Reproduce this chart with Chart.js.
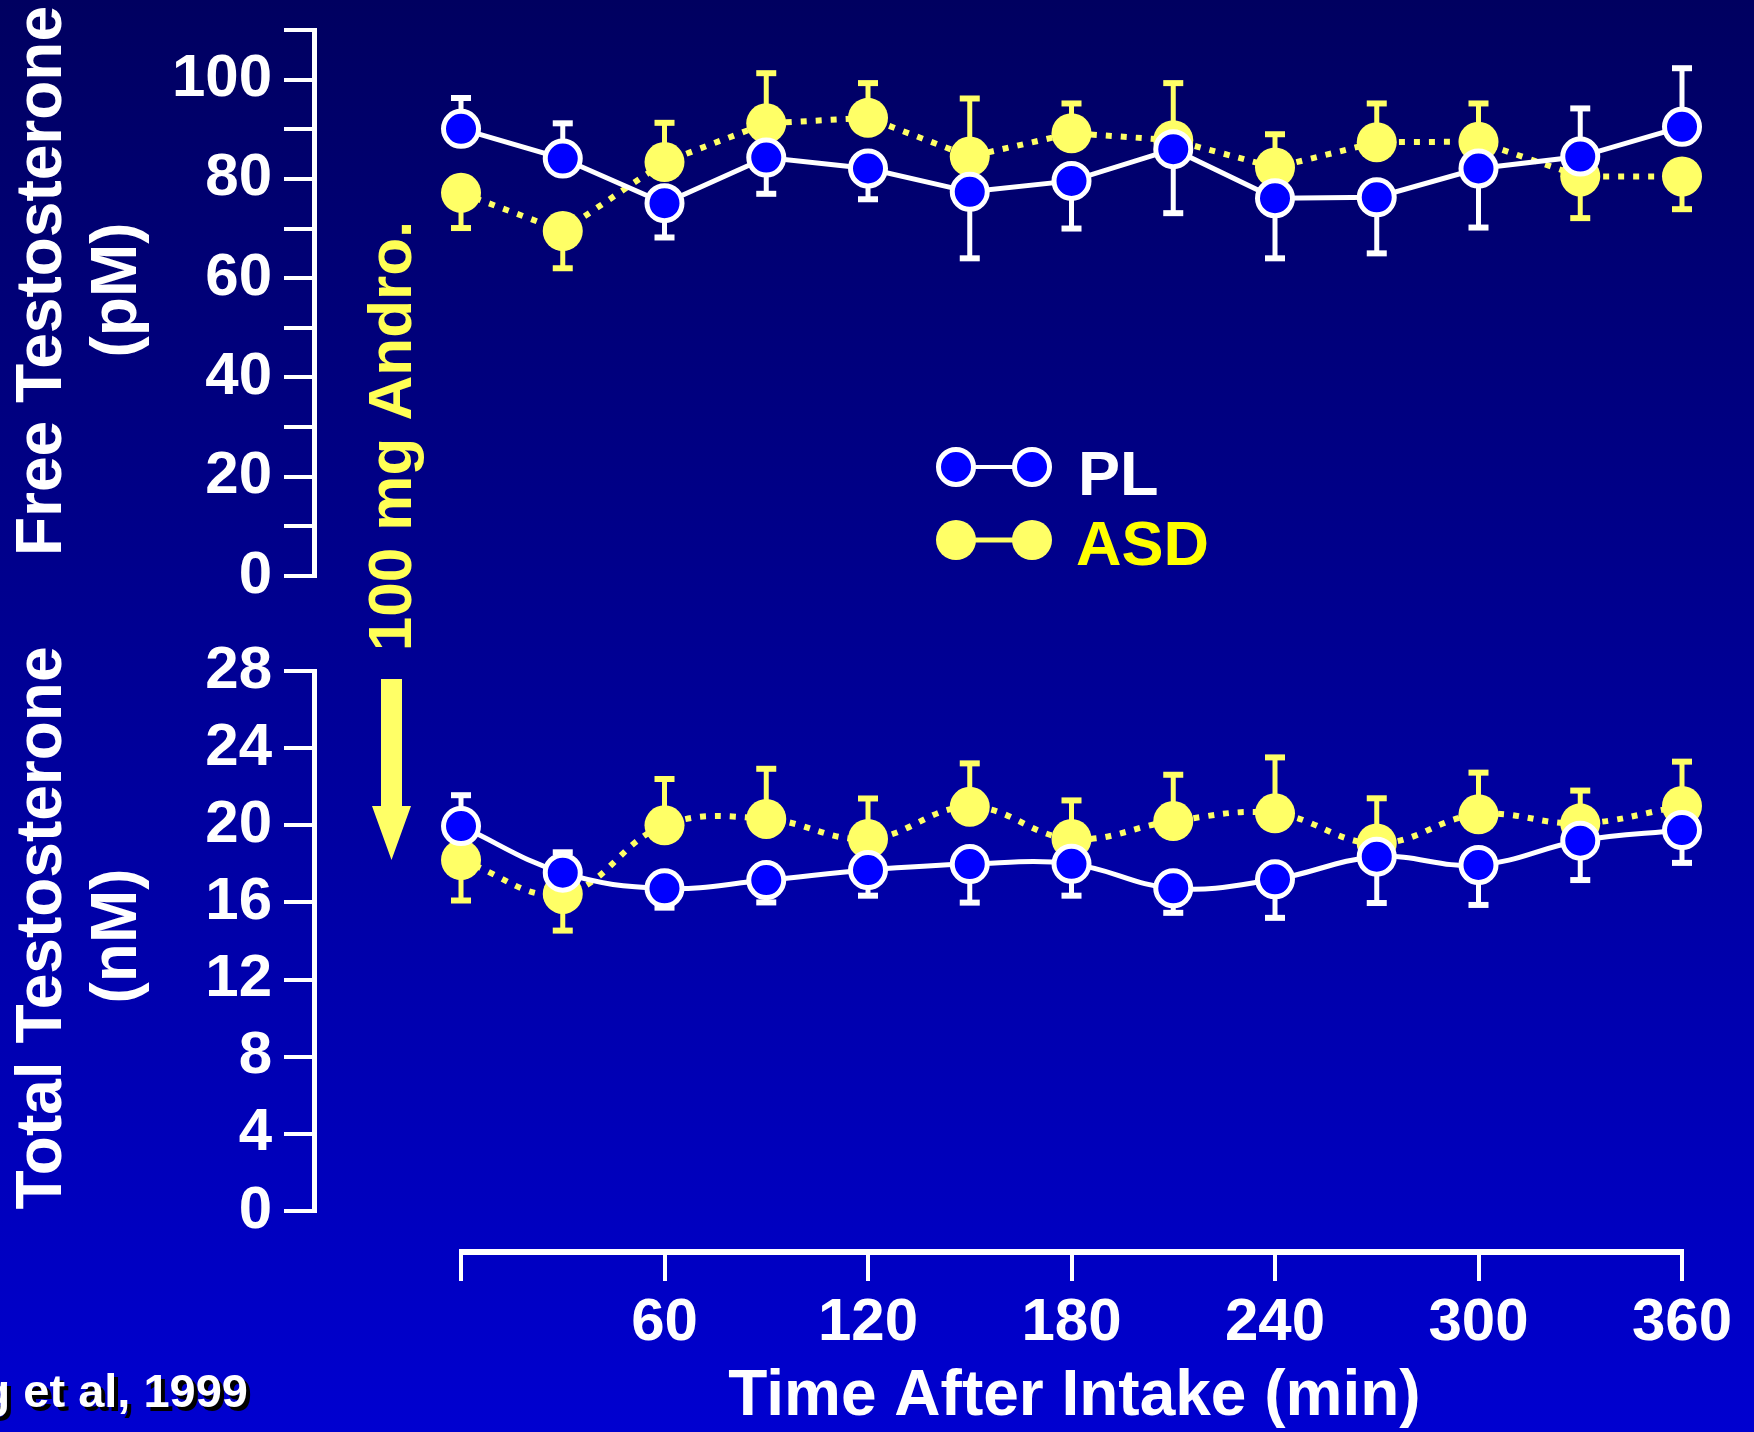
<!DOCTYPE html>
<html>
<head>
<meta charset="utf-8">
<script src="https://cdn.jsdelivr.net/npm/chart.js@4/dist/chart.umd.min.js"></script>
<style>
html,body{margin:0;padding:0;background:#000060;}
#wrap{position:relative;width:1754px;height:1432px;background:linear-gradient(to bottom,#000060 0%,#0000d0 100%);overflow:hidden;}
canvas{display:block;}
</style>
</head>
<body>
<div id="wrap"><canvas id="c" width="1754" height="1432"></canvas></div>
<script>
// ---------------- data ----------------
const times = [0, 30, 60, 90, 120, 150, 180, 210, 240, 270, 300, 330, 360];
const xTickValues = [0, 60, 120, 180, 240, 300, 360];
const freeTickValues = [0, 10, 20, 30, 40, 50, 60, 70, 80, 90, 100, 110];
const totalTickValues = [0, 4, 8, 12, 16, 20, 24, 28];
const seriesNames = ['PL', 'ASD'];

// Free testosterone (pM)
const freePL  = [90.1, 84.1, 75.1, 84.3, 82.1, 77.4, 79.6, 86.0, 76.1, 76.3, 82.1, 84.5, 90.5];
const freeASD = [77.2, 69.5, 83.4, 91.2, 92.3, 84.5, 89.2, 87.8, 82.3, 87.4, 87.5, 80.5, 80.5];
// error bars (SEM), sign = direction drawn (+ up, - down)
const freePLErr  = [6.2, 7.1, -6.9, -7.3, -6.2, -13.4, -9.6, -12.9, -12.1, -11.3, -11.9, 9.7, 11.8];
const freeASDErr = [-7.1, -7.5, 7.9, 10.1, 7.0, 11.7, 6.0, 11.5, 6.7, 7.8, 7.7, -8.4, -6.6];

// Total testosterone (nM)
const totalPL  = [19.96, 17.54, 16.73, 17.16, 17.68, 17.99, 18.0, 16.73, 17.2, 18.37, 17.94, 19.2, 19.75];
const totalASD = [18.2, 16.44, 20.0, 20.33, 19.29, 20.96, 19.29, 20.22, 20.62, 19.06, 20.57, 20.1, 21.0];
const totalPLErr  = [1.6, 1.06, -1.0, -1.16, -1.33, -2.0, -1.65, -1.27, -2.0, -2.4, -2.07, -2.04, -1.7];
const totalASDErr = [-2.1, -1.9, 2.4, 2.6, 2.1, 2.25, 2.0, 2.4, 2.9, 2.34, 2.16, 1.7, 2.3];

// ---------------- styling ----------------
const FONT = '"Liberation Sans", Arial, Helvetica, sans-serif';
const WHITE = '#ffffff';
const YEL = '#ffff66';
const BLUE = '#0000ff';

const pts = (vals) => vals.map((v, i) => ({ x: times[i], y: v }));

function plSet(vals, errs, axis, tension) {
  return {
    label: seriesNames[0], data: pts(vals), errorBars: errs, yAxisID: axis,
    borderColor: WHITE, borderWidth: 5, tension: tension, clip: false,
    pointRadius: 17.5, pointHoverRadius: 17.5, pointBackgroundColor: BLUE,
    pointBorderColor: WHITE, pointBorderWidth: 5, fill: false
  };
}
function asdSet(vals, errs, axis, tension) {
  return {
    label: seriesNames[1], data: pts(vals), errorBars: errs, yAxisID: axis,
    borderColor: YEL, borderWidth: 6, borderDash: [6, 9], tension: tension, clip: false,
    pointRadius: 20, pointHoverRadius: 20, pointBackgroundColor: YEL,
    pointBorderColor: YEL, pointBorderWidth: 0, fill: false
  };
}

const decor = {
  id: 'decor',
  beforeDatasetsDraw(chart) {
    const ctx = chart.ctx, xs = chart.scales.x;
    ctx.save();
    ctx.setLineDash([]);
    ctx.strokeStyle = WHITE; ctx.fillStyle = WHITE;
    // y axis lines (only over the labelled range)
    [['yF', freeTickValues], ['yT', totalTickValues]].forEach(([id, tv]) => {
      const s = chart.scales[id];
      const top = s.getPixelForValue(tv[tv.length - 1]);
      const bot = s.getPixelForValue(tv[0]);
      ctx.lineWidth = 5;
      ctx.beginPath();
      ctx.moveTo(s.right - 2.5, top - 2);
      ctx.lineTo(s.right - 2.5, bot + 2);
      ctx.stroke();
    });
    // x axis line
    const x0 = xs.getPixelForValue(xTickValues[0]);
    const x1 = xs.getPixelForValue(xTickValues[xTickValues.length - 1]);
    ctx.fillRect(x0 - 2, xs.top, x1 - x0 + 4, 6);
    // error bars
    chart.data.datasets.forEach((ds) => {
      const ys = chart.scales[ds.yAxisID];
      ctx.strokeStyle = ds.borderColor; ctx.fillStyle = ds.borderColor;
      ctx.lineWidth = 5;
      ds.data.forEach((p, i) => {
        const e = ds.errorBars[i];
        const x = xs.getPixelForValue(p.x);
        const y0 = ys.getPixelForValue(p.y);
        const y1 = ys.getPixelForValue(p.y + e);
        ctx.beginPath(); ctx.moveTo(x, y0); ctx.lineTo(x, y1); ctx.stroke();
        ctx.fillRect(x - 10, y1 - 3, 20, 6);
      });
    });
    ctx.restore();
  },
  afterDraw(chart) {
    const ctx = chart.ctx;
    ctx.save();
    ctx.setLineDash([]);
    function vtext(t, cy, baseX, size, color) {
      ctx.save();
      ctx.translate(baseX, cy);
      ctx.rotate(-Math.PI / 2);
      ctx.font = 'bold ' + size + 'px ' + FONT;
      ctx.fillStyle = color;
      ctx.textAlign = 'center';
      ctx.textBaseline = 'alphabetic';
      ctx.fillText(t, 0, 0);
      ctx.restore();
    }
    vtext('Free Testosterone', 281, 61, 64, WHITE);
    vtext('(pM)', 290, 136, 64, WHITE);
    vtext('Total Testosterone', 928, 61, 64, WHITE);
    vtext('(nM)', 936, 136, 64, WHITE);
    vtext('100 mg Andro.', 436, 411, 62, '#ffff55');

    // Arrow
    ctx.fillStyle = YEL;
    ctx.beginPath();
    ctx.moveTo(381, 679); ctx.lineTo(402, 679); ctx.lineTo(402, 806);
    ctx.lineTo(411, 806); ctx.lineTo(391.5, 860); ctx.lineTo(372, 806);
    ctx.lineTo(381, 806); ctx.closePath(); ctx.fill();

    // X axis title (centred on the 0-360 span)
    const xs = chart.scales.x;
    const cx = (xs.getPixelForValue(0) + xs.getPixelForValue(360)) / 2;
    ctx.font = 'bold 64px ' + FONT;
    ctx.fillStyle = WHITE; ctx.textAlign = 'center'; ctx.textBaseline = 'alphabetic';
    ctx.fillText('Time After Intake (min)', cx + 3, 1415);

    // Legend
    const dsPL = chart.data.datasets.find(d => d.label === seriesNames[0]);
    const dsASD = chart.data.datasets.find(d => d.label === seriesNames[1]);
    const lx0 = 956, lx1 = 1032, ly0 = 467, ly1 = 540;
    ctx.lineWidth = 4; ctx.strokeStyle = WHITE;
    ctx.beginPath(); ctx.moveTo(lx0, ly0); ctx.lineTo(lx1, ly0); ctx.stroke();
    [lx0, lx1].forEach(x => {
      ctx.beginPath(); ctx.arc(x, ly0, dsPL.pointRadius, 0, Math.PI * 2);
      ctx.fillStyle = dsPL.pointBackgroundColor; ctx.fill();
      ctx.lineWidth = dsPL.pointBorderWidth; ctx.strokeStyle = dsPL.pointBorderColor; ctx.stroke();
    });
    ctx.lineWidth = 5; ctx.strokeStyle = dsASD.borderColor;
    ctx.beginPath(); ctx.moveTo(lx0, ly1); ctx.lineTo(lx1, ly1); ctx.stroke();
    [lx0, lx1].forEach(x => {
      ctx.beginPath(); ctx.arc(x, ly1, dsASD.pointRadius, 0, Math.PI * 2);
      ctx.fillStyle = dsASD.pointBackgroundColor; ctx.fill();
    });
    ctx.font = 'bold 63px ' + FONT; ctx.textAlign = 'left'; ctx.textBaseline = 'alphabetic';
    ctx.fillStyle = WHITE; ctx.fillText(seriesNames[0], 1078, 495);
    ctx.fillStyle = '#ffff00'; ctx.fillText(seriesNames[1], 1076, 565);

    // Citation
    ctx.font = 'bold 47px ' + FONT; ctx.textAlign = 'right';
    ctx.fillStyle = '#000000'; ctx.fillText('King et al, 1999', 252, 1411);
    ctx.fillStyle = WHITE; ctx.fillText('King et al, 1999', 248, 1407);
    ctx.restore();
  }
};

const tickFont = { family: FONT, size: 60, weight: 'bold' };
const gridTicks = (len) => ({ drawOnChartArea: false, drawTicks: true, tickLength: len, color: WHITE, lineWidth: 4 });
const zeroPad = (s) => { s.paddingTop = 0; s.paddingBottom = 0; };

const chart = new Chart(document.getElementById('c'), {
  type: 'line',
  data: {
    datasets: [
      plSet(freePL, freePLErr, 'yF', 0),
      plSet(totalPL, totalPLErr, 'yT', 0.4),
      asdSet(freeASD, freeASDErr, 'yF', 0),
      asdSet(totalASD, totalASDErr, 'yT', 0.4)
    ]
  },
  options: {
    responsive: false,
    animation: false,
    devicePixelRatio: 1,
    layout: { padding: { top: 30, right: 72, left: 0, bottom: 0 } },
    plugins: { legend: { display: false }, tooltip: { enabled: false } },
    scales: {
      x: {
        type: 'linear', position: 'bottom', min: -42.46, max: 360,
        afterBuildTicks: s => { s.ticks = xTickValues.map(v => ({ value: v })); },
        afterFit: s => { s.height = 183; s.paddingLeft = 0; },
        grid: gridTicks(32),
        border: { display: false },
        ticks: { color: WHITE, font: tickFont, padding: 6, maxRotation: 0, autoSkip: false,
                 callback: v => (v === 0 ? '' : String(v)) }
      },
      yT: {
        type: 'linear', position: 'left', stack: 'left', stackWeight: 578,
        min: -1.97, max: 28,
        afterBuildTicks: s => { s.ticks = totalTickValues.map(v => ({ value: v })); },
        afterFit: s => { s.width = 317; zeroPad(s); },
        grid: gridTicks(33),
        border: { display: false },
        ticks: { color: WHITE, font: tickFont, padding: 12, autoSkip: false,
                 callback: v => String(v) }
      },
      yF: {
        type: 'linear', position: 'left', stack: 'left', stackWeight: 641,
        min: -19.14, max: 110,
        afterBuildTicks: s => { s.ticks = freeTickValues.map(v => ({ value: v })); },
        afterFit: s => { s.width = 317; zeroPad(s); },
        grid: gridTicks(33),
        border: { display: false },
        ticks: { color: WHITE, font: tickFont, padding: 12, autoSkip: false,
                 callback: v => (v % 20 === 0 && v <= 100 ? String(v) : '') }
      }
    }
  },
  plugins: [decor]
});
</script>
</body>
</html>
